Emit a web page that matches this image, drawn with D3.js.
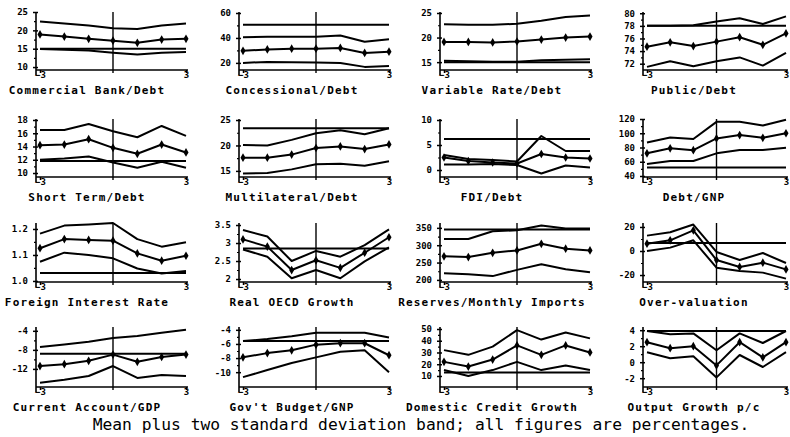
<!DOCTYPE html>
<meta charset="utf-8">
<style>
  body { margin: 0; background: #fff; }
  text { font-family: "DejaVu Sans Mono", monospace; fill: #000; }
</style>
<svg width="790" height="437"></svg>

<script src="https://d3js.org/d3.v7.min.js"></script>
<script>

var periods = [-3, -2, -1, 0, 1, 2, 3]

var panelTitles = [
  'Commercial Bank/Debt', 'Concessional/Debt', 'Variable Rate/Debt', 'Public/Debt',
  'Short Term/Debt', 'Multilateral/Debt', 'FDI/Debt', 'Debt/GNP',
  'Foreign Interest Rate', 'Real OECD Growth', 'Reserves/Monthly Imports', 'Over-valuation',
  'Current Account/GDP', "Gov't Budget/GNP", 'Domestic Credit Growth', 'Output Growth p/c'
]

// mean over the crash window, one row per panel, t-3 .. t+3
var meanSeries = [
  [18.9, 18.3, 17.7, 17.2, 16.6, 17.5, 17.7],
  [29.7, 30.8, 31.4, 31.4, 32, 28, 29],
  [19.1, 19.1, 19, 19.2, 19.6, 20, 20.2],
  [74.7, 75.4, 74.8, 75.5, 76.2, 75, 76.8],
  [14.2, 14.3, 15.1, 13.8, 12.9, 14.3, 13.1],
  [17.6, 17.6, 18.2, 19.5, 19.8, 19.3, 20.2],
  [2.5, 1.8, 1.5, 1.3, 3.2, 2.5, 2.3],
  [71.8, 78.9, 76.3, 92.7, 97.5, 93.6, 100],
  [1.126, 1.161, 1.158, 1.155, 1.106, 1.078, 1.097],
  [3.1, 2.9, 2.25, 2.52, 2.31, 2.73, 3.16],
  [268, 266, 278, 285, 304, 290, 285],
  [6.1, 8.9, 17.2, -7.5, -13.3, -9.7, -15.3],
  [-11.4, -11, -10.3, -9, -10.5, -9.5, -9],
  [-7.9, -7.3, -6.9, -6.1, -5.9, -5.9, -7.6],
  [22, 18, 24, 36, 28, 36, 30],
  [2.5, 1.75, 2, -0.4, 2.5, 0.6, 2.5]
]

var upperSeries = [
  [22.4, 21.9, 21.3, 20.6, 20.4, 21.3, 21.9],
  [40.5, 41, 41, 41, 42, 37, 39],
  [22.7, 22.6, 22.6, 22.8, 23.4, 24.2, 24.5],
  [78, 78, 78.1, 78.7, 79.2, 78.3, 79.5],
  [16.5, 16.5, 17.4, 16.3, 15.4, 17.1, 15.6],
  [20.1, 20, 21.1, 22.4, 23, 22.2, 23.4],
  [3, 2.2, 2, 1.7, 6.8, 3.8, 3.8],
  [87, 94, 92, 116, 116, 111, 119],
  [1.182, 1.213, 1.217, 1.223, 1.161, 1.132, 1.149],
  [3.36, 3.18, 2.5, 2.78, 2.62, 2.94, 3.38],
  [318, 318, 340, 343, 357, 348, 348],
  [12.8, 15.6, 22, -0.8, -7.5, -1.7, -10],
  [-7.4, -6.9, -6.3, -5.5, -5.1, -4.4, -3.8],
  [-5.6, -5.3, -4.9, -4.4, -4.4, -4.4, -5.1],
  [32, 28, 35, 49, 41, 47, 42],
  [3.9, 3.5, 3.6, 1.5, 3.6, 2.4, 3.9]
]

var lowerSeries = [
  [14.9, 14.7, 14.5, 13.9, 13.4, 13.9, 14.1],
  [20, 20.8, 20.5, 20.3, 20, 16.8, 17.6],
  [15.3, 15.2, 15.1, 15.1, 15.4, 15.5, 15.6],
  [71.5, 72.4, 71.6, 72.4, 73, 71.7, 73.7],
  [12, 12.2, 12.5, 11.6, 10.8, 11.7, 10.8],
  [14.5, 14.6, 15.3, 16.3, 16.4, 16, 16.9],
  [1.1, 1.1, 1.2, 1, -0.7, 0.9, 0.5],
  [56.7, 61, 61, 71.8, 76.5, 76.5, 79.8],
  [1.074, 1.109, 1.1, 1.087, 1.048, 1.029, 1.038],
  [2.82, 2.62, 2.02, 2.25, 2.02, 2.49, 2.88],
  [219, 216, 211, 229, 245, 231, 222],
  [0, 2.8, 8.9, -13.9, -16.7, -18, -23],
  [-14.9, -14.3, -13.5, -11.4, -13.9, -13.3, -13.5],
  [-10.7, -9.7, -8.7, -7.9, -7.1, -6.9, -10],
  [15, 10, 15, 22, 15, 19, 15],
  [1.25, 0.5, 0.75, -1.9, 0.9, -0.6, 1.25]
]

// tranquil-period mean, drawn as the flat line
var tranquilMeans = [15, 50.5, 15, 78, 11.8, 23.4, 6.2, 52, 1.031, 2.85, 345, 6.7, -8.8, -5.6, 13, 3.9]

var yTicks = [
  [10, 15, 20, 25], [20, 40, 60], [15, 20, 25], [72, 74, 76, 78, 80],
  [10, 12, 14, 16, 18], [15, 20, 25], [0, 5, 10], [40, 60, 80, 100, 120],
  [1.0, 1.1, 1.2], [2, 2.5, 3, 3.5], [200, 250, 300, 350], [-20, 0, 20],
  [-12, -8, -4], [-10, -8, -6, -4], [10, 20, 30, 40, 50], [-2, 0, 2, 4]
]

var yDomains = [
  [9.2, 25], [14.3, 60.8], [13.4, 25.2], [71, 80.2],
  [9.4, 18.15], [13.8, 25.2], [-1.4, 10.2], [38.6, 120],
  [0.996, 1.223], [1.917, 3.556], [194, 364], [-25.8, 23.3],
  [-15.8, -3.2], [-12.1, -3.6], [0.6, 51.7], [-3.1, 4.4]
]

var colLeft = [40, 243, 444, 647]
var colRight = [186, 389, 590, 786]
var titleX = [87, 292, 492, 694]
var rowTop = [12, 119, 223, 327]
var rowBottom = [70, 177, 282, 387]

var svg = d3.select('svg')

function tickFormat(i) {
  if (i === 8) return d3.format('.1f')
  return function (d) { return String(d) }
}

panelTitles.forEach(function (title, i) {
  var col = i % 4
  var row = Math.floor(i / 4)
  var top = rowTop[row]
  var bottom = rowBottom[row]
  var axisX = colLeft[col] - 4

  var x = d3.scaleLinear().domain([-3, 3]).range([colLeft[col], colRight[col]])
  var y = d3.scaleLinear().domain(yDomains[i]).range([bottom, top])

  var g = svg.append('g')

  // y axis with major + minor ticks
  var ticks = yTicks[i]
  var step = ticks[1] - ticks[0]
  var minor = ticks.slice(0, -1).map(function (t) { return t + step / 2 })
    .filter(function (t) { return t > yDomains[i][0] && t < yDomains[i][1] })

  var yAxisG = g.append('g').attr('transform', 'translate(' + axisX + ',0)')
    .call(d3.axisLeft(y).tickValues(ticks).tickSize(3).tickPadding(5).tickFormat(tickFormat(i)))
  yAxisG.select('.domain').remove()
  yAxisG.selectAll('.tick line').attr('x2', 2).attr('x1', -3).attr('stroke-width', 1.5)
  yAxisG.selectAll('text').attr('font-size', 9).attr('font-weight', 'bold')

  var minorG = g.append('g').attr('transform', 'translate(' + axisX + ',0)')
    .call(d3.axisLeft(y).tickValues(minor).tickSize(2).tickFormat(''))
  minorG.select('.domain').remove()
  minorG.selectAll('.tick line').attr('x1', -2).attr('x2', 0).attr('stroke-width', 1.2)

  g.append('line')
    .attr('x1', axisX).attr('x2', axisX)
    .attr('y1', top).attr('y2', bottom + 5)
    .attr('stroke', '#000').attr('stroke-width', 1.6)

  // x axis
  var xAxisG = g.append('g').attr('transform', 'translate(0,' + bottom + ')')
    .call(d3.axisBottom(x).tickValues([-3, 3]).tickSize(3).tickFormat(d3.format('d')))
  xAxisG.select('.domain').remove()
  xAxisG.selectAll('.tick line').attr('stroke-width', 1.5)
  xAxisG.selectAll('text').attr('font-size', 9).attr('font-weight', 'bold')
    .attr('y', 8).attr('dy', 0)

  g.append('line')
    .attr('x1', axisX).attr('x2', colRight[col] + 2)
    .attr('y1', bottom).attr('y2', bottom)
    .attr('stroke', '#000').attr('stroke-width', 1.6)

  // crash date
  g.append('line')
    .attr('x1', x(0)).attr('x2', x(0))
    .attr('y1', top).attr('y2', bottom + 3)
    .attr('stroke', '#000').attr('stroke-width', 1.4)

  // tranquil mean
  g.append('line')
    .attr('x1', x(-3)).attr('x2', x(3))
    .attr('y1', y(tranquilMeans[i])).attr('y2', y(tranquilMeans[i]))
    .attr('stroke', '#000').attr('stroke-width', 2)

  var line = d3.line()
    .x(function (d, k) { return x(periods[k]) })
    .y(function (d) { return y(d) })

  ;[upperSeries[i], meanSeries[i], lowerSeries[i]].forEach(function (s) {
    g.append('path')
      .attr('d', line(s))
      .attr('fill', 'none')
      .attr('stroke', '#000')
      .attr('stroke-width', 2)
      .attr('stroke-linejoin', 'round')
  })

  g.selectAll('.dot')
    .data(meanSeries[i])
    .enter().append('path')
    .attr('d', d3.symbol(d3.symbolDiamond, 22))
    .attr('transform', function (d, k) { return 'translate(' + x(periods[k]) + ',' + y(d) + ')' })
    .attr('fill', '#000')

  g.append('text')
    .attr('x', titleX[col])
    .attr('y', bottom + 24)
    .attr('text-anchor', 'middle')
    .attr('font-size', 11)
    .attr('font-weight', 'bold')
    .attr('letter-spacing', 1.2)
    .text(title)
})

svg.append('text')
  .attr('x', 421)
  .attr('y', 430)
  .attr('text-anchor', 'middle')
  .attr('font-size', 16.3)
  .text('Mean plus two standard deviation band; all figures are percentages.')

</script>
